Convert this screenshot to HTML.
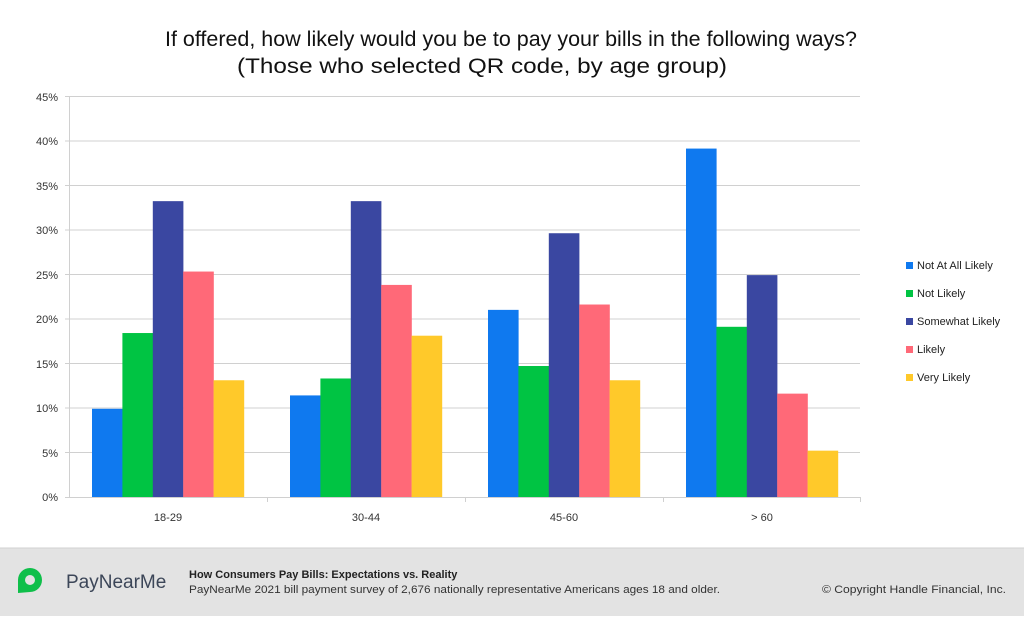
<!DOCTYPE html>
<html><head><style>
body{margin:0;width:1024px;height:616px;background:#fff;font-family:"Liberation Sans",sans-serif;overflow:hidden}
</style></head><body>
<svg width="1024" height="616" xmlns="http://www.w3.org/2000/svg" font-family="Liberation Sans, sans-serif">
<rect width="1024" height="616" fill="#fff"/>
<text x="165" y="46" font-size="21" fill="#111" textLength="692" lengthAdjust="spacingAndGlyphs">If offered, how likely would you be to pay your bills in the following ways?</text>
<text x="237" y="73" font-size="21" fill="#111" textLength="490" lengthAdjust="spacingAndGlyphs">(Those who selected QR code, by age group)</text>
<g stroke="#d0d0d0" stroke-width="1">
<line x1="65" y1="96.5" x2="860" y2="96.5"/><line x1="65" y1="141" x2="860" y2="141"/>
<line x1="65" y1="185.5" x2="860" y2="185.5"/><line x1="65" y1="230" x2="860" y2="230"/>
<line x1="65" y1="274.5" x2="860" y2="274.5"/><line x1="65" y1="319" x2="860" y2="319"/>
<line x1="65" y1="363.5" x2="860" y2="363.5"/><line x1="65" y1="408" x2="860" y2="408"/>
<line x1="65" y1="452.5" x2="860" y2="452.5"/><line x1="65" y1="497.5" x2="860" y2="497.5"/>
<line x1="69.5" y1="96" x2="69.5" y2="497"/>
<line x1="267.5" y1="497" x2="267.5" y2="502"/><line x1="465.5" y1="497" x2="465.5" y2="502"/><line x1="663.5" y1="497" x2="663.5" y2="502"/><line x1="860.5" y1="497" x2="860.5" y2="502"/>
</g>
<g font-size="11" fill="#333" text-anchor="end">
<text x="58" y="101">45%</text><text x="58" y="145">40%</text><text x="58" y="190">35%</text>
<text x="58" y="234">30%</text><text x="58" y="279">25%</text><text x="58" y="323">20%</text>
<text x="58" y="368">15%</text><text x="58" y="412">10%</text><text x="58" y="457">5%</text><text x="58" y="501">0%</text>
</g>
<g font-size="11" fill="#333" text-anchor="middle">
<text x="168" y="521">18-29</text><text x="366" y="521">30-44</text><text x="564" y="521">45-60</text><text x="762" y="521">&gt; 60</text>
</g>
<g id="bars"></g>
<g font-size="11" fill="#222">
<rect x="906" y="262" width="7" height="7" fill="#0f79ef"/><text x="917" y="269">Not At All Likely</text>
<rect x="906" y="290" width="7" height="7" fill="#00c443"/><text x="917" y="297">Not Likely</text>
<rect x="906" y="318" width="7" height="7" fill="#3a47a1"/><text x="917" y="325">Somewhat Likely</text>
<rect x="906" y="346" width="7" height="7" fill="#ff6978"/><text x="917" y="353">Likely</text>
<rect x="906" y="374" width="7" height="7" fill="#ffc92a"/><text x="917" y="381">Very Likely</text>
</g>
<rect x="0" y="548" width="1024" height="68" fill="#e3e3e3"/>
<line x1="0" y1="548" x2="1024" y2="548" stroke="#d0d0d0"/>
<path d="M18 593 L18 580 A12 12 0 1 1 30 592 L18 593 Z" fill="#0fbf4a"/>
<circle cx="30" cy="580" r="5" fill="#e3e3e3"/>
<text x="66" y="588" font-size="19" fill="#3c4658">PayNearMe</text>
<text x="189" y="578" font-size="11" font-weight="bold" fill="#222">How Consumers Pay Bills: Expectations vs. Reality</text>
<text x="189" y="593" font-size="11" fill="#333" textLength="531" lengthAdjust="spacingAndGlyphs">PayNearMe 2021 bill payment survey of 2,676 nationally representative Americans ages 18 and older.</text>
<text x="822" y="593" font-size="11" fill="#333" textLength="184" lengthAdjust="spacingAndGlyphs">© Copyright Handle Financial, Inc.</text>
</svg>
<script>
var vals=[[9.9,18.4,33.2,25.3,13.1],[11.4,13.3,33.2,23.8,18.1],[21,14.7,29.6,21.6,13.1],[39.1,19.1,24.9,11.6,5.2]];
var cols=["#0f79ef","#00c443","#3a47a1","#ff6978","#ffc92a"];
var g=document.getElementById("bars"),s="";
for(var i=0;i<4;i++)for(var j=0;j<5;j++){var h=vals[i][j]*401/45,x=92+i*198+j*30.4;
s+='<rect x="'+x+'" y="'+(497-h)+'" width="30.6" height="'+h+'" fill="'+cols[j]+'"/>';}
g.innerHTML=s;
</script>
</body></html>
